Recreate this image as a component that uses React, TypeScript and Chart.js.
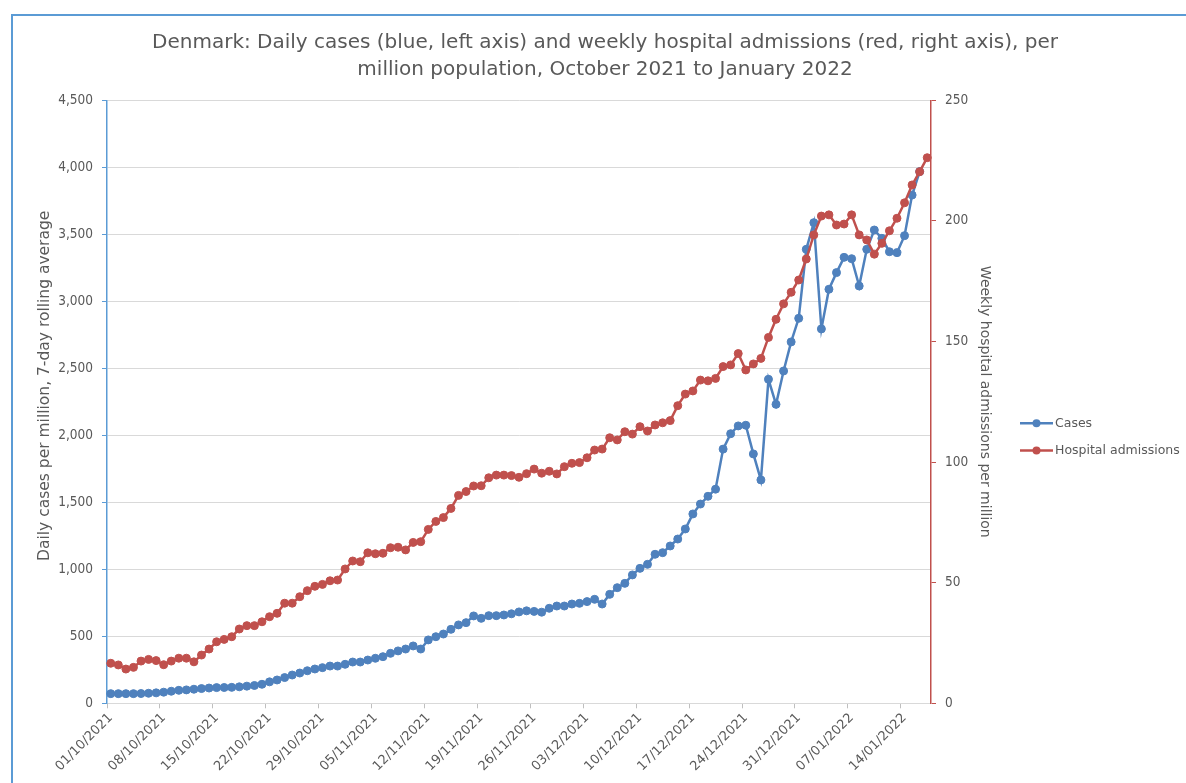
import React, { useEffect, useRef } from 'react';
import { Chart, registerables } from 'chart.js';

Chart.register(...registerables);

const FONT = "'DejaVu Sans', Verdana, sans-serif";
const FONT_NARROW = "'DejaVu Sans Condensed', 'DejaVu Sans', sans-serif";
const TEXT = '#595959';
const BLUE = '#4F81BD';
const RED = '#C0504D';
const AXIS_BLUE = '#5B9BD5';
const GRID = '#D9D9D9';

const titleLines = [
  'Denmark: Daily cases (blue, left axis) and weekly hospital admissions (red, right axis), per',
  'million population, October 2021 to January 2022',
];
const leftAxisTitle = 'Daily cases per million, 7-day rolling average';
const rightAxisTitle = 'Weekly hospital admissions per million';
const seriesNames = ['Cases', 'Hospital admissions'];

// Categories: one per day, 01/10/2021 .. 17/01/2022
const firstDay = { y: 2021, m: 10, d: 1 };
const dayCount = 109;
const categories: string[] = (() => {
  const out: string[] = [];
  const t0 = Date.UTC(firstDay.y, firstDay.m - 1, firstDay.d);
  for (let i = 0; i < dayCount; i++) {
    const dt = new Date(t0 + i * 86400000);
    const dd = String(dt.getUTCDate()).padStart(2, '0');
    const mm = String(dt.getUTCMonth() + 1).padStart(2, '0');
    out.push(`${dd}/${mm}/${dt.getUTCFullYear()}`);
  }
  return out;
})();
const labelEvery = 7;

// Daily cases per million (left axis)
const cases: (number | null)[] = [
  72, 72, 72, 72, 73, 75, 78, 83, 90, 97, 100, 105, 110, 114, 117, 118, 119, 123, 128, 133, 142, 160, 174, 192, 211, 226, 243, 256,
  266, 278, 278, 291, 308, 308, 323, 336, 348, 373, 391, 405, 428, 405, 473, 497, 517, 552, 585, 602, 652, 634, 654, 654, 659, 668, 682, 690,
  686, 680, 709, 726, 726, 741, 746, 759, 776, 741, 813, 863, 895, 958, 1007, 1037, 1112, 1124, 1174, 1226, 1301, 1413, 1487, 1545, 1598, 1897, 2012, 2070,
  2075, 1861, 1667, 2418, 2231, 2480, 2697, 2873, 3388, 3587, 2794, 3090, 3214, 3328, 3318, 3114, 3388, 3532, 3470, 3370, 3363, 3490, 3793, 3968, null,
];

// Weekly hospital admissions per million (right axis)
const admissions: number[] = [
  16.6, 15.9, 14.2, 14.9, 17.5, 18.2, 17.7, 16.0, 17.5, 18.7, 18.7, 17.2, 20.0, 22.5, 25.5, 26.5, 27.6, 30.8, 32.2, 32.2, 33.8, 35.9, 37.3, 41.5, 41.5, 44.2, 46.7, 48.5,
  49.3, 50.8, 51.1, 55.7, 59.0, 58.7, 62.4, 62.0, 62.2, 64.5, 64.7, 63.6, 66.7, 67.0, 72.1, 75.4, 77.0, 80.8, 86.2, 87.8, 90.1, 90.2, 93.5, 94.6, 94.6, 94.4, 93.7, 95.2,
  97.1, 95.4, 96.2, 95.1, 98.1, 99.5, 99.8, 101.8, 105.0, 105.4, 110.1, 109.2, 112.6, 111.6, 114.7, 112.9, 115.4, 116.3, 117.2, 123.4, 128.2, 129.5, 134.0, 133.7, 134.7, 139.6, 140.3, 145.0,
  138.2, 140.7, 143.0, 151.7, 159.2, 165.6, 170.4, 175.5, 184.2, 194.2, 202.0, 202.5, 198.3, 198.7, 202.5, 194.2, 192.1, 186.2, 190.7, 195.9, 201.1, 207.5, 214.9, 220.4, 226.2,
];

const leftMax = 4500;
const leftStep = 500;
const rightMax = 250;
const rightStep = 50;

// Legend (line + marker) and left axis title, drawn beside the plot area
const sideText = {
  id: 'sideText',
  afterDraw(chart: any) {
    const { ctx, chartArea } = chart;
    const colors = [BLUE, RED];
    const x0 = chartArea.right + 89;
    const yMid = (chartArea.top + chartArea.bottom) / 2;
    ctx.save();
    seriesNames.forEach((name, i) => {
      const y = yMid + 21.5 + i * 27.3;
      ctx.strokeStyle = colors[i];
      ctx.lineWidth = 2.5;
      ctx.beginPath();
      ctx.moveTo(x0, y);
      ctx.lineTo(x0 + 33, y);
      ctx.stroke();
      ctx.fillStyle = colors[i];
      ctx.beginPath();
      ctx.arc(x0 + 16.5, y, 4, 0, Math.PI * 2);
      ctx.fill();
      ctx.fillStyle = TEXT;
      ctx.font = `12.5px ${FONT}`;
      ctx.textBaseline = 'middle';
      ctx.textAlign = 'left';
      ctx.fillText(name, x0 + 35, y);
    });
    // left axis title
    ctx.translate(chartArea.left - 62, yMid - 16);
    ctx.rotate(-Math.PI / 2);
    ctx.fillStyle = TEXT;
    ctx.font = `15.5px ${FONT}`;
    ctx.textAlign = 'center';
    ctx.textBaseline = 'middle';
    ctx.fillText(leftAxisTitle, 0, 0);
    ctx.restore();
  },
};

export default function App() {
  const ref = useRef<HTMLCanvasElement>(null);

  useEffect(() => {
    if (!ref.current) return;
    const tickFont = { family: FONT, size: 13 };
    const yTickFont = { family: FONT_NARROW, size: 13.5 };
    const chart = new Chart(ref.current, {
      type: 'line',
      data: {
        labels: categories,
        datasets: [
          {
            label: seriesNames[0],
            data: cases,
            yAxisID: 'y',
            borderColor: BLUE,
            backgroundColor: BLUE,
            pointBackgroundColor: BLUE,
            pointBorderColor: BLUE,
            borderWidth: 2.5,
            pointRadius: 4,
            pointBorderWidth: 1,
            tension: 0,
            order: 1,
          },
          {
            label: seriesNames[1],
            data: admissions,
            yAxisID: 'y1',
            borderColor: RED,
            backgroundColor: RED,
            pointBackgroundColor: RED,
            pointBorderColor: RED,
            borderWidth: 2.5,
            pointRadius: 4,
            pointBorderWidth: 1,
            tension: 0,
            order: 0,
          },
        ],
      },
      options: {
        responsive: false,
        animation: false,
        devicePixelRatio: 1,
        layout: { padding: { left: 0, right: 0, top: 0, bottom: 0 } },
        plugins: {
          legend: { display: false },
          tooltip: { enabled: false },
          title: {
            display: true,
            text: titleLines,
            color: TEXT,
            font: { family: FONT, size: 20, weight: 'normal', lineHeight: '27px' },
            padding: { top: 29.5, bottom: 16.8 },
          },
        },
        scales: {
          x: {
            type: 'category',
            offset: true,
            grid: {
              offset: true,
              drawOnChartArea: false,
              drawTicks: true,
              tickLength: 5,
              color: GRID,
              tickColor: (c: any) => (c.index % labelEvery === 0 ? '#BFBFBF' : 'rgba(0,0,0,0)'),
            },
            border: { color: GRID, width: 1 },
            ticks: {
              autoSkip: false,
              minRotation: 45,
              maxRotation: 45,
              color: TEXT,
              font: tickFont,
              padding: 2,
              callback: function (this: any, v: any, i: number) {
                return i % labelEvery === 0 ? this.getLabelForValue(v) : '';
              },
            },
            afterFit: (s: any) => {
              s.height = 79.7;
            },
          },
          y: {
            position: 'left',
            min: 0,
            max: leftMax,
            ticks: {
              stepSize: leftStep,
              color: TEXT,
              font: yTickFont,
              padding: 9,
              callback: (v: any) => Number(v).toLocaleString('en-US'),
            },
            grid: { color: GRID, tickColor: AXIS_BLUE, tickLength: 5, lineWidth: 1 },
            border: { color: AXIS_BLUE, width: 1.5 },
            title: { display: false },
            afterFit: (s: any) => {
              s.width = 107;
            },
          },
          y1: {
            position: 'right',
            min: 0,
            max: rightMax,
            ticks: {
              stepSize: rightStep,
              color: TEXT,
              font: yTickFont,
              padding: 9,
            },
            grid: { drawOnChartArea: false, tickColor: RED, tickLength: 5 },
            border: { color: RED, width: 1.5 },
            title: {
              display: true,
              text: rightAxisTitle,
              color: TEXT,
              font: { family: FONT, size: 14 },
              padding: { top: 216.6, bottom: 0 },
            },
            afterFit: (s: any) => {
              s.width = 279;
            },
          },
        },
      },
      plugins: [sideText],
    } as any);
    return () => chart.destroy();
  }, []);

  return (
    <div
      style={{
        position: 'fixed',
        left: 0,
        top: 0,
        width: 1186,
        height: 783,
        overflow: 'hidden',
        background: '#ffffff',
      }}
    >
      <div
        style={{
          position: 'absolute',
          left: 11,
          top: 14,
          width: 1400,
          height: 1000,
          border: `2px solid ${AXIS_BLUE}`,
          boxSizing: 'border-box',
        }}
      />
      <canvas
        ref={ref}
        width={1210}
        height={783}
        style={{ position: 'absolute', left: 0, top: 0, width: 1210, height: 783 }}
      />
    </div>
  );
}
